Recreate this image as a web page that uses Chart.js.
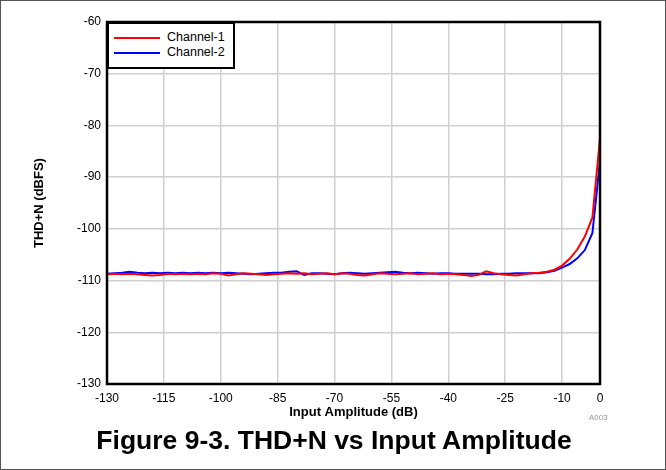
<!DOCTYPE html>
<html>
<head>
<meta charset="utf-8">
<script src="https://cdn.jsdelivr.net/npm/chart.js@4.4.0/dist/chart.umd.min.js"></script>
<style>
  html, body { margin: 0; padding: 0; background: #fff; }
  #caja { position: relative; width: 666px; height: 470px; box-sizing: border-box; border: 1px solid #555; overflow: hidden; }
  #grafico { position: absolute; left: 0; top: 0; }
  #leyenda { position: absolute; left: 106px; top: 21px; width: 128px; height: 47px; box-sizing: border-box;
             border: 2px solid #000; background: #fff; font: 12.5px "Liberation Sans", Arial, sans-serif; color: #000; padding-top: 6px; }
  #leyenda div { height: 15px; line-height: 15px; white-space: nowrap; }
  #leyenda span.linea { display: inline-block; width: 46px; height: 2px; margin: 0 7px 0 5px; vertical-align: middle; }
  #codigo { position: absolute; left: 588px; top: 412px; font: 8px "Liberation Sans", Arial, sans-serif; color: #999; }
  #titulo { position: absolute; left: 0; top: 424px; width: 666px; text-align: center; font: bold 26.5px "Liberation Sans", Arial, sans-serif; color: #000; }
</style>
</head>
<body>
<div id="caja">
  <canvas id="grafico" width="666" height="470"></canvas>
  <div id="leyenda">
    <div><span class="linea" style="background:#ff0000"></span>Channel-1</div>
    <div><span class="linea" style="background:#0000ff"></span>Channel-2</div>
  </div>
  <div id="codigo">A003</div>
  <div id="titulo">Figure 9-3. THD+N vs Input Amplitude</div>
</div>
<script>
// amplitud de entrada (dB), pasos de 2 dB
let amplitud = [-130,-128,-126,-124,-122,-120,-118,-116,-114,-112,-110,-108,-106,-104,-102,-100,
  -98,-96,-94,-92,-90,-88,-86,-84,-82,-80,-78,-76,-74,-72,-70,-68,-66,-64,-62,-60,
  -58,-56,-54,-52,-50,-48,-46,-44,-42,-40,-38,-36,-34,-32,-30,-28,-26,-24,-22,-20,
  -18,-16,-14,-12,-10,-8,-6,-4,-2,0];

let canal1 = [-108.8,-108.7,-108.8,-108.7,-108.8,-108.9,-109.0,-108.9,-108.7,-108.8,-108.7,-108.8,-108.7,-108.8,-108.6,-108.7,
  -109.0,-108.8,-108.6,-108.7,-108.8,-108.9,-108.8,-108.7,-108.6,-108.7,-108.6,-108.8,-108.7,-108.6,-108.8,-108.6,-108.7,-108.9,-109.0,-108.8,
  -108.6,-108.7,-108.8,-108.7,-108.6,-108.8,-108.7,-108.6,-108.8,-108.7,-108.8,-108.9,-109.1,-108.9,-108.2,-108.6,-108.8,-108.9,-109.0,-108.8,
  -108.6,-108.5,-108.3,-107.9,-107.1,-105.8,-104.0,-101.5,-97.8,-82.5];

let canal2 = [-108.7,-108.6,-108.5,-108.3,-108.5,-108.6,-108.5,-108.6,-108.5,-108.6,-108.5,-108.6,-108.5,-108.6,-108.5,-108.6,
  -108.5,-108.6,-108.7,-108.8,-108.7,-108.6,-108.5,-108.5,-108.3,-108.2,-108.9,-108.6,-108.6,-108.7,-108.8,-108.6,-108.5,-108.6,-108.7,-108.6,
  -108.5,-108.4,-108.3,-108.5,-108.6,-108.5,-108.6,-108.7,-108.6,-108.6,-108.7,-108.7,-108.7,-108.7,-108.8,-108.8,-108.7,-108.7,-108.6,-108.6,
  -108.6,-108.6,-108.4,-108.1,-107.5,-106.8,-105.7,-104.1,-100.8,-86.8];

let ticksX = [-130,-115,-100,-85,-70,-55,-40,-25,-10,0];
let ticksY = [-130,-120,-110,-100,-90,-80,-70,-60];

let fuente = '"Liberation Sans", Arial, sans-serif';

function puntos(valores){
    return amplitud.map(function(x, i){ return {x: x, y: valores[i]}; });
}

// marco negro del area de trazado
const marco = {
    id: 'marco',
    afterDatasetsDraw: function(chart){
        const a = chart.chartArea;
        const ctx = chart.ctx;
        ctx.save();
        ctx.strokeStyle = '#000';
        ctx.lineWidth = 2.5;
        ctx.strokeRect(a.left, a.top, a.right - a.left, a.bottom - a.top);
        ctx.restore();
    }
};

new Chart(document.getElementById('grafico'), {
    type: 'line',
    data: {
        datasets: [
            { label: 'Channel-1', data: puntos(canal1), borderColor: '#ff0000', borderWidth: 2, pointRadius: 0, tension: 0 },
            { label: 'Channel-2', data: puntos(canal2), borderColor: '#0000ff', borderWidth: 2, pointRadius: 0, tension: 0 }
        ]
    },
    options: {
        responsive: false,
        animation: false,
        layout: { padding: { left: 0, right: 67, top: 21, bottom: 47 } },
        plugins: {
            legend: { display: false },
            tooltip: { enabled: false }
        },
        scales: {
            x: {
                type: 'linear',
                min: -130,
                max: 0,
                afterBuildTicks: function(scale){ scale.ticks = ticksX.map(function(v){ return {value: v}; }); },
                afterFit: function(scale){ scale.height = 40; },
                ticks: { color: '#000', font: { family: fuente, size: 12 }, padding: 7, maxRotation: 0, autoSkip: false },
                grid: { color: '#d0d0d0', lineWidth: 1.5, drawTicks: false },
                border: { display: false },
                title: { display: true, text: 'Input Amplitude (dB)', color: '#000', font: { family: fuente, size: 13, weight: 'bold' }, padding: { top: 0, bottom: 4 } }
            },
            y: {
                min: -130,
                max: -60,
                afterBuildTicks: function(scale){ scale.ticks = ticksY.map(function(v){ return {value: v}; }); },
                afterFit: function(scale){ scale.width = 106; },
                ticks: { color: '#000', font: { family: fuente, size: 12 }, padding: 6 },
                grid: { color: '#d0d0d0', lineWidth: 1.5, drawTicks: false },
                border: { display: false },
                title: { display: true, text: 'THD+N (dBFS)', color: '#000', font: { family: fuente, size: 13, weight: 'bold' }, padding: { top: 31, bottom: 0 } }
            }
        }
    },
    plugins: [marco]
});
</script>
</body>
</html>
